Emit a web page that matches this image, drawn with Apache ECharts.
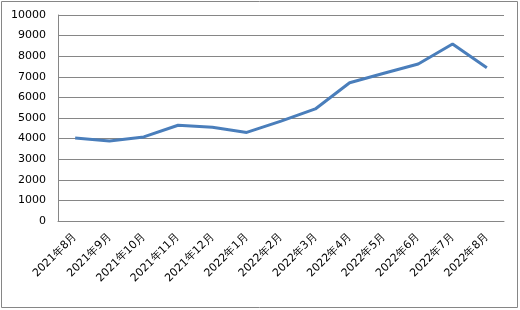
<!DOCTYPE html>
<html><head><meta charset="utf-8">
<script src="https://cdn.jsdelivr.net/npm/echarts@6/dist/echarts.min.js"></script>
<style>html,body{margin:0;padding:0;background:#fff}#c{width:520px;height:310px}</style>
</head><body><div id="c"></div>
<script>
const categories = ['2021年8月','2021年9月','2021年10月','2021年11月','2021年12月','2022年1月','2022年2月','2022年3月','2022年4月','2022年5月','2022年6月','2022年7月','2022年8月'];
const values = [4030, 3880, 4080, 4650, 4550, 4300, 4850, 5440, 6710, 7170, 7620, 8590, 7440];
const yMin = 0, yMax = 10000, yStep = 1000;

const chart = echarts.init(document.getElementById('c'), null, {renderer:'canvas'});
chart.setOption({
  animation:false,
  graphic:[{type:'rect', shape:{x:1.5, y:1.5, width:516, height:306}, style:{fill:null, stroke:'#868686', lineWidth:1}, silent:true}],
  grid:{left:58, right:16, top:15, bottom:89, containLabel:false},
  xAxis:{type:'category', data:categories, boundaryGap:true,
    axisLine:{show:true, lineStyle:{color:'#868686', width:1}},
    axisTick:{show:false},
    axisLabel:{rotate:45, interval:0, color:'#000', fontFamily:'DejaVu Sans', fontSize:11, margin:14}},
  yAxis:{type:'value', min:yMin, max:yMax, interval:yStep,
    axisLine:{show:true, lineStyle:{color:'#868686', width:1}},
    axisTick:{show:false},
    splitLine:{show:true, lineStyle:{color:'#868686', width:1}},
    axisLabel:{color:'#000', fontFamily:'DejaVu Sans', fontSize:11, margin:12, formatter:function(v){return String(v);}}},
  series:[{type:'line', data:values, symbol:'none', lineStyle:{color:'#4a7ebb', width:3}, itemStyle:{color:'#4a7ebb'}}]
});
</script></body></html>
